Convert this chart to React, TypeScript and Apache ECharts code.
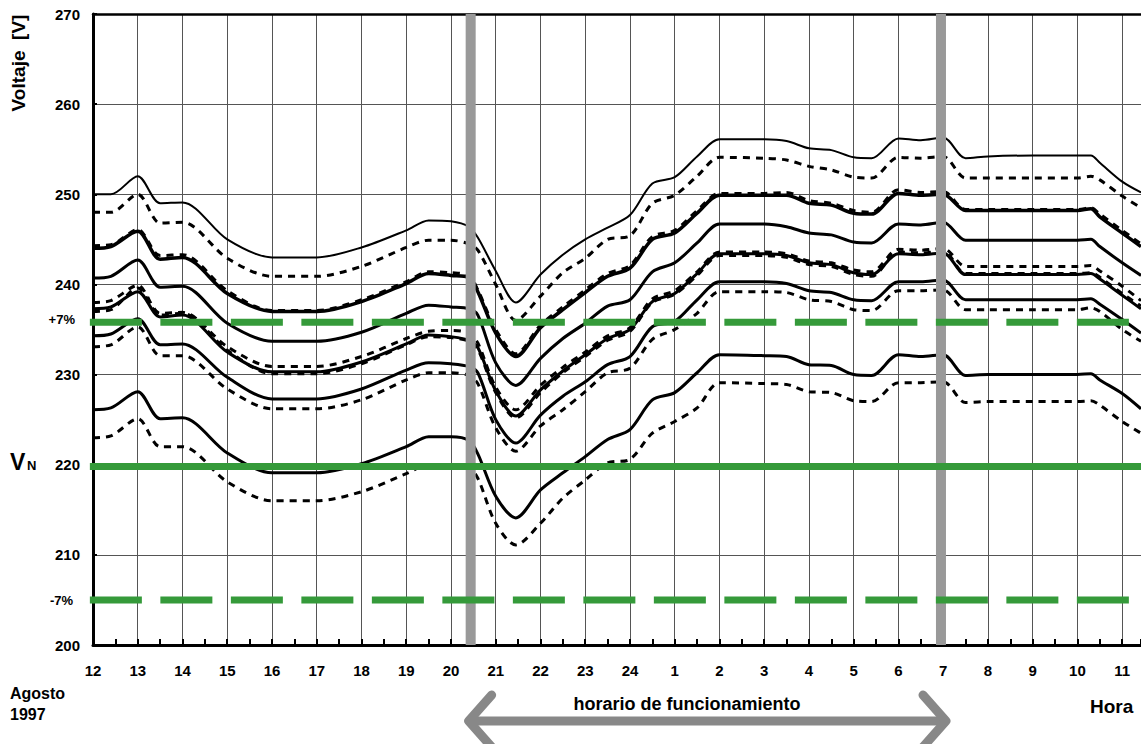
import { useEffect, useRef } from 'react';
import * as echarts from 'echarts';

// Hour labels along the x axis (hours counted from 12:00 of the first day)
const HOUR_LABELS = ['12', '13', '14', '15', '16', '17', '18', '19', '20', '21', '22', '23', '24',
  '1', '2', '3', '4', '5', '6', '7', '8', '9', '10', '11'];
const X_MAX = 23.42;

// Sample positions (hours since 12:00)
const X_HOURS = [0, 0.4, 1, 1.5, 2, 3, 4, 5, 6, 7, 7.5, 8, 8.4, 8.6, 9, 9.45, 10, 10.5, 11, 11.5,
  12, 12.5, 13, 13.5, 14, 15, 15.5, 16, 16.5, 17, 17.4, 18, 18.5, 19, 19.5, 20, 21, 22, 22.3, 22.5, 23, 23.42];

// Voltage curves [V]
const S1 = [250, 250, 252, 249, 249.1, 245, 243, 243, 244.1, 246, 247.1, 247, 246.4, 245.2, 241.5, 238, 241.1, 243.3, 245, 246.3, 247.7, 251.2, 251.9, 254.2, 256.1, 256.1, 255.9, 255.1, 254.9, 254.1, 254, 256.2, 256, 256.3, 254, 254.2, 254.3, 254.3, 254.3, 253.5, 251.4, 250.2];
const S2 = [248, 248, 250, 246.8, 246.9, 242.9, 240.9, 240.9, 242, 244.1, 244.9, 244.9, 244.5, 243.8, 240, 236, 238.7, 241.3, 242.9, 245, 245.4, 249, 249.9, 252, 254.1, 254, 253.8, 253.1, 252.7, 251.9, 251.8, 254.1, 254, 254.2, 251.8, 251.8, 251.8, 251.8, 252, 251.6, 249.8, 248.5];
const S3 = [244, 244.2, 245.9, 242.8, 243, 239, 237, 237, 238.1, 240.1, 241.2, 241, 240.8, 239.2, 234.6, 232, 235.2, 237.2, 239.1, 240.9, 241.8, 245, 245.7, 247.9, 249.9, 249.9, 249.9, 249, 248.8, 247.9, 247.8, 250.1, 249.9, 250, 248.2, 248.2, 248.2, 248.2, 248.4, 247.5, 245.7, 244.2];
const S4 = [244.3, 244.4, 246.1, 243.2, 243.3, 239.3, 237.1, 237.1, 238.3, 240.3, 241.4, 241.3, 241, 239.4, 235, 232.3, 235.5, 237.5, 239.4, 241.2, 242.1, 245.3, 246, 248.2, 250.1, 250.1, 250.2, 249.3, 249, 248.2, 248, 250.5, 250.2, 250.3, 248.3, 248.3, 248.3, 248.3, 248.5, 247.8, 246, 244.5];
const S5 = [240.7, 240.9, 242.7, 239.7, 239.8, 235.7, 233.7, 233.7, 234.7, 236.8, 237.7, 237.5, 237.3, 236.6, 231.3, 228.8, 231.8, 234, 235.7, 237.6, 238.3, 241.4, 242.4, 244.6, 246.7, 246.7, 246.4, 245.7, 245.5, 244.7, 244.6, 246.7, 246.6, 246.9, 244.9, 244.9, 244.9, 244.9, 245, 244.2, 242.4, 241];
const S6 = [238, 238.2, 239.9, 236.8, 236.9, 233.1, 230.9, 230.9, 232, 234, 234.8, 234.9, 234.6, 233.5, 228.6, 226.1, 228.8, 230.8, 232.5, 234.3, 235.2, 238.4, 239.3, 241.4, 243.6, 243.6, 243.4, 242.6, 242.4, 241.6, 241.4, 243.9, 243.8, 244, 242, 242, 242, 242, 242.1, 241.5, 239.8, 238.2];
const S7 = [237.3, 237.5, 239.2, 236.4, 236.6, 232.5, 230.3, 230.3, 231.4, 233.4, 234.4, 234.2, 233.8, 233, 228.2, 225.4, 228.3, 230.4, 232.2, 234, 235, 238.1, 239, 241.2, 243.4, 243.4, 243.2, 242.4, 242.2, 241.3, 241.1, 243.4, 243.3, 243.5, 241.1, 241.1, 241.1, 241.1, 241.2, 240.6, 238.8, 237.3];
const S8 = [237, 237.2, 239.6, 236.6, 236.8, 232.7, 230.1, 230.1, 231.2, 233.3, 234.2, 234.1, 233.7, 232.8, 228, 225.2, 228, 230.2, 232, 233.8, 234.8, 238, 238.9, 241, 243.2, 243.2, 243, 242.2, 242, 241.1, 240.9, 243.6, 243.5, 243.7, 241.2, 241.2, 241.2, 241.2, 241.3, 240.8, 239, 237.6];
const S9 = [234.3, 234.5, 236.2, 233.3, 233.4, 229.7, 227.3, 227.3, 228.4, 230.5, 231.3, 231.2, 230.9, 230.2, 225, 222.4, 225.5, 227.6, 229.2, 231.1, 232, 235.3, 235.9, 238.3, 240.3, 240.3, 240.1, 239.3, 239.1, 238.3, 238.2, 240.3, 240.3, 240.5, 238.3, 238.3, 238.3, 238.3, 238.4, 237.8, 236.1, 234.6];
const S10 = [233.1, 233.3, 235.3, 232.1, 232.1, 228.4, 226.2, 226.2, 227.2, 229.4, 230.2, 230.2, 229.9, 229, 224.1, 221.5, 224.3, 226.1, 228.1, 230.2, 230.7, 233.9, 235, 236.8, 239.2, 239.2, 239.1, 238.3, 238.1, 237.2, 237.1, 239.3, 239.3, 239.4, 237.2, 237.2, 237.2, 237.2, 237.4, 237, 235, 233.7];
const S11 = [226.1, 226.3, 228.1, 225.1, 225.2, 221.3, 219.1, 219.1, 220.1, 222, 223.1, 223.1, 222.7, 221.2, 216.5, 214.1, 217.2, 219.1, 220.9, 222.8, 223.9, 227.2, 228, 230.2, 232.2, 232.1, 232, 231.1, 231, 230, 229.9, 232.2, 232, 232.2, 229.9, 230, 230, 230, 230.1, 229.4, 227.9, 226.2];
const S12 = [223, 223.2, 225.1, 222, 222, 218.1, 216, 216, 217, 219, 220, 220, 219.7, 218.5, 213.5, 211.1, 213.5, 216.3, 218.3, 220.2, 220.6, 223.5, 224.8, 226.3, 229.1, 229, 228.9, 228.1, 228, 227.1, 227, 229.1, 229.1, 229.2, 226.9, 227, 227, 227, 227.1, 226.6, 224.8, 223.5];

// Reference levels [V]
const NOMINAL = 219.8;
const LIMIT_PLUS = 235.8;
const LIMIT_MINUS = 205;
// Operating period boundaries (hours since 12:00)
const BAR_POSITIONS = [8.44, 18.95];

const FONT = '"Liberation Sans", Arial, Helvetica, sans-serif';
const GREEN = '#359a3a';

export default function App() {
  const ref = useRef<HTMLDivElement>(null);

  useEffect(() => {
    const chart = echarts.init(ref.current!, null, { renderer: 'svg' });
    const mk = (d: number[]) => X_HOURS.map((x, i) => [x, d[i]]);

    const curves = [
      { d: S1, dashed: false, w: 2 },
      { d: S2, dashed: true, w: 3 },
      { d: S3, dashed: false, w: 3.5 },
      { d: S4, dashed: true, w: 3 },
      { d: S5, dashed: false, w: 3 },
      { d: S6, dashed: true, w: 3 },
      { d: S7, dashed: false, w: 3 },
      { d: S8, dashed: true, w: 3 },
      { d: S9, dashed: false, w: 3 },
      { d: S10, dashed: true, w: 3 },
      { d: S11, dashed: false, w: 3 },
      { d: S12, dashed: true, w: 3 },
    ];

    const series: any[] = curves.map((c) => ({
      type: 'line',
      data: mk(c.d),
      showSymbol: false,
      smooth: 0.3,
      silent: true,
      z: 2,
      lineStyle: { color: '#000', width: c.w, type: c.dashed ? [7, 6] : 'solid' },
    }));

    BAR_POSITIONS.forEach((p) => {
      series.push({
        type: 'line', data: [[p, 200], [p, 270]], showSymbol: false, silent: true, z: 4,
        lineStyle: { color: '#999999', width: 10, cap: 'butt' },
      });
    });

    const limitLine = (v: number, dashed: boolean) => ({
      type: 'line', data: [[-0.07, v], [X_MAX, v]], showSymbol: false, silent: true, z: 5, clip: false,
      lineStyle: { color: GREEN, width: 7, type: dashed ? [52, 18.5] : 'solid', cap: 'butt' },
    });
    series.push(limitLine(LIMIT_PLUS, true));
    series.push(limitLine(NOMINAL, false));
    series.push(limitLine(LIMIT_MINUS, true));

    const axisText = { color: '#000', fontWeight: 'bold' as const, fontSize: 15, fontFamily: FONT };

    chart.setOption({
      animation: false,
      backgroundColor: '#fff',
      grid: { left: 93, right: 0, top: 14, bottom: 99, containLabel: false },
      xAxis: [
        {
          type: 'value', min: 0, max: X_MAX, interval: 1,
          axisLine: { show: true, onZero: false, lineStyle: { color: '#000', width: 3 } },
          axisTick: { show: true, inside: true, length: 6, lineStyle: { color: '#000', width: 2 } },
          minorTick: { show: true, splitNumber: 2, length: 6, lineStyle: { color: '#000', width: 2 } },
          splitLine: { show: true, lineStyle: { color: '#555', width: 1 } },
          axisLabel: {
            ...axisText, margin: 18, showMaxLabel: false,
            formatter: (v: number) => (Math.abs(v - Math.round(v)) < 1e-6 ? HOUR_LABELS[Math.round(v)] ?? '' : ''),
          },
        },
        {
          type: 'value', position: 'top', min: 0, max: X_MAX, gridIndex: 0,
          axisLine: { show: true, onZero: false, lineStyle: { color: '#000', width: 2.5 } },
          axisTick: { show: false }, axisLabel: { show: false }, splitLine: { show: false },
        },
      ],
      yAxis: {
        type: 'value', min: 200, max: 270, interval: 10,
        axisLine: { show: true, onZero: false, lineStyle: { color: '#000', width: 3 } },
        axisTick: { show: true, inside: true, length: 4, lineStyle: { color: '#000', width: 2 } },
        splitLine: { show: true, lineStyle: { color: '#555', width: 1 } },
        axisLabel: { ...axisText, margin: 13 },
      },
      series,
    });

    const py = (v: number) => (chart.convertToPixel({ gridIndex: 0 }, [0, v]) as number[])[1];
    const px = (h: number) => (chart.convertToPixel({ gridIndex: 0 }, [h, 200]) as number[])[0];
    const left = px(BAR_POSITIONS[0]) - 2;
    const right = px(BAR_POSITIONS[1]) + 5;
    const ay = 721;
    const arrowStyle = { stroke: '#888888', lineWidth: 9, lineCap: 'round', lineJoin: 'round', fill: null };
    const txt = (text: string, x: number, y: number, size: number, align = 'left', extra: any = {}) => ({
      type: 'text', x, y, z: 10, ...extra,
      style: {
        text, font: `bold ${size}px ${FONT}`, fill: '#000',
        align, verticalAlign: 'middle', textAlign: align, textVerticalAlign: 'middle',
      },
    });

    chart.setOption({
      graphic: [
        txt('Voltaje  [V]', 18, 63, 19, 'center', { rotation: Math.PI / 2 }),
        txt('+7%', 75, py(LIMIT_PLUS) - 3, 13, 'right'),
        txt('-7%', 73, py(LIMIT_MINUS) + 1, 13, 'right'),
        txt('V', 10, 462, 23, 'left'),
        txt('N', 27, 465, 13, 'left'),
        txt('Agosto', 10, 693, 16, 'left'),
        txt('1997', 10, 714, 16, 'left'),
        txt('Hora', 1090, 706, 19, 'left'),
        txt('horario de funcionamiento', 687, 704, 18, 'center'),
        { type: 'line', z: 10, shape: { x1: left + 3, y1: ay, x2: right - 3, y2: ay }, style: arrowStyle },
        { type: 'polyline', z: 10, shape: { points: [[left + 23, ay - 26], [left, ay], [left + 23, ay + 26]] }, style: arrowStyle },
        { type: 'polyline', z: 10, shape: { points: [[right - 23, ay - 26], [right, ay], [right - 23, ay + 26]] }, style: arrowStyle },
      ],
    });

    return () => chart.dispose();
  }, []);

  return (
    <div
      ref={ref}
      style={{ position: 'fixed', left: 0, top: 0, width: 1141, height: 744, background: '#fff' }}
    />
  );
}
